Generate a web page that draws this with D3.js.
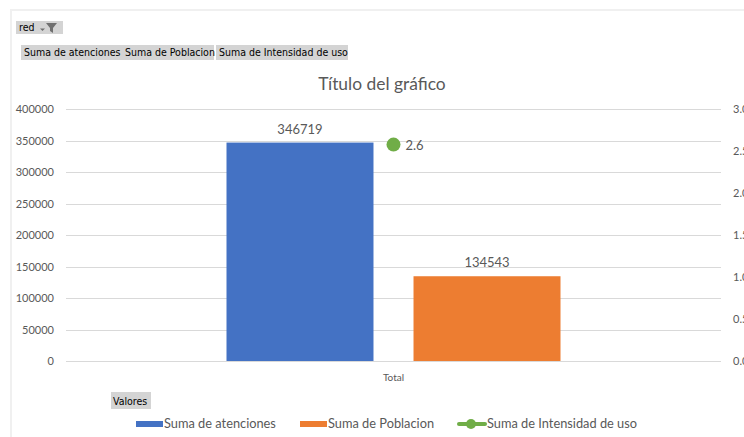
<!DOCTYPE html>
<html>
<head>
<meta charset="utf-8">
<script src="https://cdn.jsdelivr.net/npm/d3@7"></script>
<style>
  body { margin: 0; background: #fff; }
  text { font-family: "Lato", "Liberation Sans", sans-serif; fill: #595959; }
  .btn text { font-family: "DejaVu Sans Condensed", "DejaVu Sans", sans-serif; fill: #000; font-size: 10.5px; }
</style>
</head>
<body>
<script>
// chart data
var categories = ["Total"];
var barSeries = ["Suma de atenciones", "Suma de Poblacion"];
var barValues = [346719, 134543];
var lineSeries = "Suma de Intensidad de uso";
var lineValues = [2.6];
var leftTicks = [0, 50000, 100000, 150000, 200000, 250000, 300000, 350000, 400000];
var rightTicks = [0, 0.5, 1, 1.5, 2, 2.5, 3];
var fieldButtons = ["Suma de atenciones", "Suma de Poblacion", "Suma de Intensidad de uso"];

var colors = ["#4472C4", "#ED7D31"];
var lineColor = "#70AD47";

var svgWidth = 744, svgHeight = 437;
var plot = { left: 66, right: 721, top: 109, bottom: 361 };

var svg = d3.select("body").append("svg")
    .attr("width", svgWidth)
    .attr("height", svgHeight);

// frame lines (top and left edge of chart area)
svg.append("rect").attr("x", 10).attr("y", 9).attr("width", 734).attr("height", 2).attr("fill", "#f0f0f0");
svg.append("rect").attr("x", 10).attr("y", 9).attr("width", 2).attr("height", 428).attr("fill", "#f0f0f0");

// scales
var xBand = d3.scaleBand().domain(categories).range([plot.left, plot.right]);
var yLeft = d3.scaleLinear().domain([0, 400000]).range([plot.bottom, plot.top]);
var yRight = d3.scaleLinear().domain([0, 3]).range([plot.bottom, plot.top]);

// gridlines
svg.append("g").selectAll("line").data(leftTicks).join("line")
    .attr("x1", plot.left).attr("x2", plot.right)
    .attr("y1", d => Math.round(yLeft(d)) + 0.5).attr("y2", d => Math.round(yLeft(d)) + 0.5)
    .attr("stroke", "#d9d9d9");

// left axis labels
svg.append("g").selectAll("text").data(leftTicks).join("text")
    .attr("x", 54).attr("y", d => yLeft(d) + 4)
    .attr("text-anchor", "end").attr("font-size", "11px")
    .text(d => d);

// right axis labels
svg.append("g").selectAll("text").data(rightTicks).join("text")
    .attr("x", 733).attr("y", d => yRight(d) + 4)
    .attr("font-size", "11px")
    .text(d => d3.format(".1f")(d));

// bars
var groupPad = 160.5;
var inner = d3.scaleBand().domain(barSeries)
    .range([xBand(categories[0]) + groupPad, xBand(categories[0]) + xBand.bandwidth() - groupPad])
    .paddingInner(0.214);

svg.append("g").selectAll("rect").data(barValues).join("rect")
    .attr("x", (d, i) => inner(barSeries[i]))
    .attr("width", inner.bandwidth())
    .attr("y", d => yLeft(d))
    .attr("height", d => plot.bottom - yLeft(d))
    .attr("fill", (d, i) => colors[i]);

svg.append("g").selectAll("text").data(barValues).join("text")
    .attr("x", (d, i) => inner(barSeries[i]) + inner.bandwidth() / 2)
    .attr("y", d => yLeft(d) - 9)
    .attr("text-anchor", "middle").attr("font-size", "13px").attr("fill", "#404040")
    .text(d => d);

// line series point
var cx = xBand(categories[0]) + xBand.bandwidth() / 2;
svg.append("g").selectAll("circle").data(lineValues).join("circle")
    .attr("cx", cx).attr("cy", d => yRight(d) + 2)
    .attr("r", 7).attr("fill", lineColor);
svg.append("g").selectAll("text").data(lineValues).join("text")
    .attr("x", cx + 12).attr("y", d => yRight(d) + 7)
    .attr("font-size", "13px").attr("fill", "#404040")
    .text(d => d);

// category label
svg.append("text").attr("x", cx).attr("y", 381)
    .attr("text-anchor", "middle").attr("font-size", "10px")
    .text(categories[0]);

// title
svg.append("text").attr("x", 382).attr("y", 90)
    .attr("text-anchor", "middle").attr("font-size", "17.4px")
    .text("Título del gráfico");

// pivot buttons
var btn = svg.append("g").attr("class", "btn");
btn.append("rect").attr("x", 16).attr("y", 21).attr("width", 47).attr("height", 13).attr("fill", "#d4d4d4");
btn.append("text").attr("x", 19).attr("y", 31).text("red");
btn.append("path").attr("d", "M40,28.5 h5 l-2.5,2.5z").attr("fill", "#707070");
btn.append("path").attr("d", "M46,23 h11 l-4,5 v5 l-3,-2 v-3z").attr("fill", "#707070");

var btnX = [21, 122, 216];
var btnW = [101, 92, 132];
btn.selectAll("rect.f").data(fieldButtons).join("rect").attr("class", "f")
    .attr("x", (d, i) => btnX[i]).attr("y", 45).attr("width", (d, i) => btnW[i]).attr("height", 15)
    .attr("fill", "#d4d4d4");
btn.selectAll("text.f").data(fieldButtons).join("text").attr("class", "f")
    .attr("x", (d, i) => btnX[i] + 3).attr("y", 56)
    .text(d => d);

btn.append("rect").attr("x", 111).attr("y", 392).attr("width", 40).attr("height", 17).attr("fill", "#d4d4d4");
btn.append("text").attr("x", 113).attr("y", 404.5).text("Valores");

// legend
var legend = svg.append("g");
var legX = [136, 300];
barSeries.forEach(function (s, i) {
    legend.append("rect").attr("x", legX[i]).attr("y", 421).attr("width", 27).attr("height", 6).attr("fill", colors[i]);
    legend.append("text").attr("x", legX[i] + 28).attr("y", 428).attr("font-size", "12.8px").text(s);
});
legend.append("line").attr("x1", 459).attr("x2", 485).attr("y1", 424).attr("y2", 424)
    .attr("stroke", lineColor).attr("stroke-width", 4).attr("stroke-linecap", "round");
legend.append("circle").attr("cx", 471).attr("cy", 424).attr("r", 5).attr("fill", lineColor);
legend.append("text").attr("x", 487).attr("y", 428).attr("font-size", "12.8px").text(lineSeries);
</script>
</body>
</html>
